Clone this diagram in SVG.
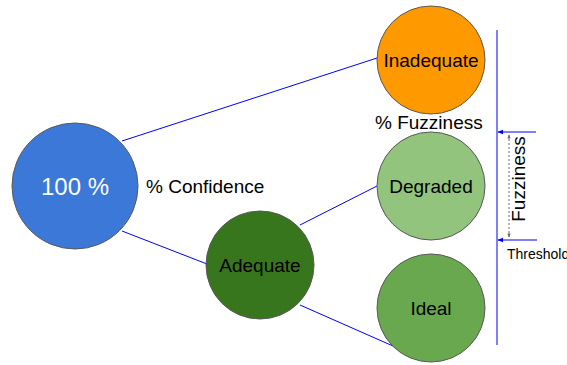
<svg xmlns="http://www.w3.org/2000/svg" width="567" height="365" viewBox="0 0 567 365">
<style>
.node{stroke:#595959;stroke-width:1}
.t{font-family:"Liberation Sans",Arial,sans-serif;fill:#000}
.n{font-size:19px;text-anchor:middle}
.c{stroke:#0000ff;stroke-width:1;fill:none}
</style>
<defs>
<marker id="ab" viewBox="0 0 10 10" refX="9" refY="5" markerWidth="6" markerHeight="6" orient="auto"><path d="M0,1 L10,5 L0,9 Z" fill="#0000ff"/></marker>
<marker id="ag" viewBox="0 0 10 10" refX="9" refY="5" markerWidth="4" markerHeight="4" orient="auto-start-reverse"><path d="M0,1 L10,5 L0,9 Z" fill="#666"/></marker>
</defs>
<rect width="567" height="365" fill="#fff"/>
<g id="connectors">
<line class="c" x1="122" y1="141" x2="377" y2="58"/>
<line class="c" x1="122" y1="231" x2="207" y2="264"/>
<line class="c" x1="300" y1="225" x2="377" y2="186"/>
<line class="c" x1="300" y1="305" x2="393" y2="346"/>
<line class="c" x1="497" y1="30" x2="497" y2="345"/>
<line class="c" x1="536" y1="132" x2="498" y2="132" marker-end="url(#ab)"/>
<line class="c" x1="537" y1="240" x2="498" y2="240" marker-end="url(#ab)"/>
<line x1="509" y1="135" x2="509" y2="237" stroke="#666" stroke-width="1" stroke-dasharray="2,2" marker-start="url(#ag)" marker-end="url(#ag)"/>
</g>
<g id="n100">
<circle class="node" cx="75" cy="186" r="63" fill="#3c78d8"/>
<text class="t" x="75" y="195" font-size="24" text-anchor="middle" style="fill:#fff">100 %</text>
</g>
<g id="adequate">
<circle class="node" cx="260" cy="265" r="54" fill="#38761d"/>
<text class="t n" x="260" y="272">Adequate</text>
</g>
<g id="inadequate">
<circle class="node" cx="431" cy="60" r="54" fill="#ff9900"/>
<text class="t n" x="431" y="67">Inadequate</text>
</g>
<g id="degraded">
<circle class="node" cx="431" cy="186" r="54" fill="#93c47d"/>
<text class="t n" x="431" y="193">Degraded</text>
</g>
<g id="ideal">
<circle class="node" cx="431" cy="308" r="54" fill="#6aa84f"/>
<text class="t n" x="431" y="315">Ideal</text>
</g>
<g id="labels">
<text class="t" x="146" y="193" font-size="19">% Confidence</text>
<text class="t" x="375" y="129" font-size="19">% Fuzziness</text>
<text class="t" x="0" y="0" font-size="19" text-anchor="middle" transform="translate(525,179) rotate(-90)">Fuzziness</text>
<text class="t" x="507" y="259" font-size="14">Threshold</text>
</g>
</svg>
